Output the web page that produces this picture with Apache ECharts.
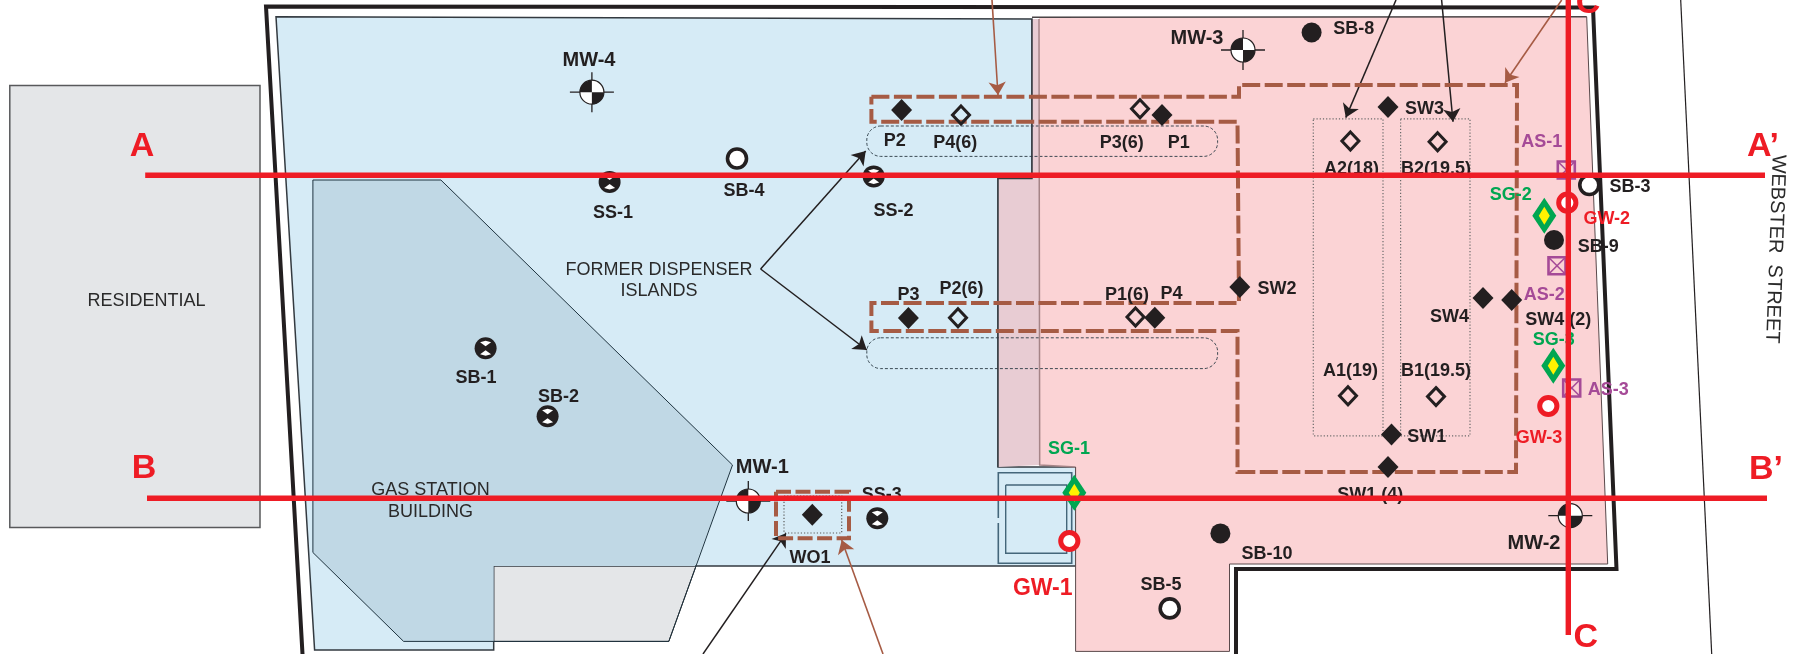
<!DOCTYPE html>
<html><head><meta charset="utf-8">
<style>html,body{margin:0;padding:0;background:#fff}#c{width:1794px;height:654px}</style>
<script src="https://cdn.jsdelivr.net/npm/echarts@6/dist/echarts.min.js"></script>
</head><body><div id="c"></div>
<script>
// Site plan geometry (x, y in picture units)
const residential=[[9.8,85.5],[260,85.5],[260,527.5],[9.8,527.5]];
const buildingFull=[[312.9,180],[440.9,180],[732.5,465],[668.8,641.4],[403.6,641.4],[312.9,552.5]];
const buildingOnSite=[[312.9,180],[440.9,180],[732.5,465],[695,566],[493.7,566],[493.7,641.4],[403.6,641.4],[312.9,552.5]];
const blueArea=[[276,16.7],[1032,19],[1032,178.5],[998,178.5],[998,467],[1076,467],[1076,566],[493.7,566],[493.7,650],[314.6,650]];
const pinkArea=[[1039,17.3],[1586.7,16.7],[1607.7,564],[1229.5,564],[1229.5,651.4],[1075.6,651.4],[1075.6,467],[1039.7,465]];
const overlapArea=[[1032,19],[1039,19],[1039.7,465],[998,467],[998,178.5],[1032,178.5]];
const pinkEdge=[[1039,19],[1039.7,465],[1075.6,467]];
const pinkTop=[[1032,17.3],[1586.7,16.7]];
const propertyLine=[[302.5,654],[266,6.5],[1593,7.5],[1616.5,569],[1236,569],[1236,654]];
const roadLine=[[1680.7,0],[1711.7,654]];
const vaultOuter=[[998.3,518],[998.3,472.7],[1071.7,472.7],[1071.7,563.3],[998.3,563.3],[998.3,523]];
const vaultInner=[[1005.7,485],[1066.7,485],[1066.7,553.3],[1005.7,553.3],[1005.7,485]];
const excavationMain=[[871.4,96.7],[1239,96.7],[1239,85],[1517,85],[1516,472],[1237.5,472],[1237.5,331],[871.4,331],[871.4,303],[1239,303],[1237.5,121.8],[871.4,121.8],[871.4,96.7]];
const excavationWO=[[776,491.7],[849,491.7],[849,538.3],[776,538.3],[776,491.7]];
const dottedA=[[1313.3,118.8],[1383,118.8],[1383,435.8],[1313.3,435.8],[1313.3,118.8]];
const dottedB=[[1400.6,118.8],[1470,118.8],[1470,435.8],[1400.6,435.8],[1400.6,118.8]];
const dottedWO=[[784,496],[841.7,496],[841.7,533],[784,533],[784,496]];
const islands=[[866.8,126,1217.6,156.4],[866.8,337.8,1217.6,368.6]];
const blackArrows=[[[760.6,269],[865.7,151]],[[760.6,269],[866.8,350]],[[703,654],[786,533.3]],[[1396,0],[1345.8,117.6]],[[1441.6,0],[1453,121.8]]];
const brownArrows=[[[883,654],[841.7,540]],[[992,0],[998,95]],[[1561.7,0],[1505,82.7]]];
const sectionA=[[145.2,175.3],[1765,175.3]];
const sectionB=[[147,498.3],[1767,498.3]];
const sectionC=[[1568.3,0],[1568.3,635]];
// Sample locations
const solidDiamonds=[[901.6,110],[1162,115],[1388,107],[1239.8,287],[1483,298],[1511.7,300],[1154.8,317.8],[1391.5,434.5],[1388,467],[908.4,318],[812.3,514.7]];
const openDiamonds=[[961,115],[1140,108.8],[1350.4,141],[1437.6,141.8],[958,317.8],[1135.5,317],[1348,395.7],[1436,396.6]];
const solidCircles=[[1311.6,32.5],[1554,240],[1220.4,533.4]];
const openCircles=[[737,158.5],[1589.3,185],[1169.7,608.4]];
const crossCircles=[[609.6,182],[873.7,176.4],[485.6,348.2],[547.6,416.2],[877.3,518.3]];
const monitorWells=[[591.9,92.2],[1243,50],[748.3,501],[1570.3,515.7]];
const groundwater=[[1069.3,541],[1567.3,202.7],[1548.3,406]];
const soilGas=[[1074.3,492.7],[1544.3,215.7],[1553.3,365.7]];
const airSparge=[[1566.3,170],[1557,265.7],[1571.7,388]];
// Text
const boldLabels=[[589,58.8,'MW-4'],[1197,36.7,'MW-3'],[762.3,465.7,'MW-1'],[1534,541.7,'MW-2']];
const smallLabels=[[1353.8,27.5,'SB-8'],[894.7,139.6,'P2'],[955.3,141.8,'P4(6)'],[1121.8,141.8,'P3(6)'],[1178.8,141.8,'P1'],[1424.5,107.6,'SW3'],[1351.5,167.2,'A2(18)'],[1436,167.2,'B2(19.5)'],[1630,185.3,'SB-3'],[1598.3,245.3,'SB-9'],[1558.3,319,'SW4 (2)'],[1449.6,315.7,'SW4'],[1276.9,287.3,'SW2'],[908.4,294,'P3'],[961.6,287.7,'P2(6)'],[1126.9,293.2,'P1(6)'],[1171.4,292.7,'P4'],[1350.4,369.5,'A1(19)'],[1436,369.5,'B1(19.5)'],[1426.8,435.8,'SW1'],[1370.3,494,'SW1 (4)'],[881.7,493.3,'SS-3'],[810,556.7,'WO1'],[1267,552.5,'SB-10'],[1161,583.8,'SB-5'],[613,211.4,'SS-1'],[893.5,209.4,'SS-2'],[744,189.7,'SB-4'],[475.9,376.6,'SB-1'],[558.6,395.3,'SB-2']];
const plainLabels=[[659,269,'FORMER DISPENSER'],[659,289.4,'ISLANDS'],[146.4,299.4,'RESIDENTIAL'],[430.5,489,'GAS STATION'],[430.5,510.4,'BUILDING']];
const streetLabel=[[1775,247.5,'WEBSTER  STREET']];
const asLabels=[[1541.7,140.7,'AS-1'],[1544.3,293.7,'AS-2'],[1608.3,388.3,'AS-3']];
const sgLabels=[[1510.7,194,'SG-2'],[1553.7,338.3,'SG-3'],[1069,447.3,'SG-1']];
const gwLabels=[[1606.7,217.7,'GW-2'],[1539,436.7,'GW-3']];
const gwBigLabels=[[1042.7,586.7,'GW-1']];
const sectionLabels=[[142,145,'A'],[144,467,'B'],[1763,145,"A’"],[1766,467.7,"B’"],[1585.7,636,'C'],[1588,2,'C']];

const RED='#ee1c25',DARK='#231f20',BROWN='#a65b44',GREEN='#00a651',PURPLE='#a54a97';
const FONT='"Liberation Sans"';

function fill(pts,color,stroke,w,z){return {type:'custom',coordinateSystem:'cartesian2d',data:pts,z:z||1,silent:true,
  encode:{x:0,y:1},renderItem:(p,api)=>{ if(p.dataIndex!==0)return null;
   return {type:'polygon',shape:{points:pts.map(q=>api.coord(q))},style:{fill:color,stroke:stroke||'none',lineWidth:w||0}};}};}
function path(pts,color,w,dash,z){return {type:'line',data:pts,symbol:'none',silent:true,z:z||2,animation:false,
  lineStyle:{color:color,width:w,type:dash||'solid',cap:'butt',join:'miter'}};}
function marks(pts,draw,z){return {type:'custom',coordinateSystem:'cartesian2d',data:pts,z:z||4,silent:true,encode:{x:0,y:1},
  renderItem:(p,api)=>{const c=api.coord([api.value(0),api.value(1)]);return {type:'group',x:c[0],y:c[1],children:draw()};}};}
function arrows(list,color,w){return {type:'lines',coordinateSystem:'cartesian2d',polyline:false,silent:true,z:3,
  symbol:['none','arrow'],symbolSize:13,lineStyle:{color:color,width:w,opacity:1,curveness:0},
  data:list.map(a=>({coords:a}))};}
function text(list,size,color,weight,rotate,z){return {type:'custom',coordinateSystem:'cartesian2d',data:list,z:z||5,silent:true,
  encode:{x:0,y:1},renderItem:(p,api)=>{const c=api.coord([list[p.dataIndex][0],list[p.dataIndex][1]]);
   return {type:'text',x:c[0],y:c[1]+1.5,rotation:(rotate||0)*Math.PI/180,
     style:{text:list[p.dataIndex][2],fill:color,font:weight+' '+size+'px '+FONT,textAlign:'center',textVerticalAlign:'middle'}};}};}
const poly=(pts,style)=>({type:'polygon',shape:{points:pts},style});
const ln=(a,b,c,d,stroke,w)=>({type:'line',shape:{x1:a,y1:b,x2:c,y2:d},style:{stroke,lineWidth:w}});
const circ=(r,style)=>({type:'circle',shape:{cx:0,cy:0,r},style});

const series=[
 fill(residential,'#e4e6e8','#58595b',1.5),
 fill(buildingFull,'#e4e6e8','#231f20',1,1),
 fill(blueArea,'#d6ebf6','#333a40',1.5,1),
 fill(overlapArea,'#e8ccd3','none',0,1),
 fill(pinkArea,'#fbd3d5','none',0,1),
 fill(buildingOnSite,'#c0d8e5','none',0,1),
 path(buildingFull.concat([buildingFull[0]]),'#1f3440',1,'solid',2),
 path(blueArea.slice(1,5),'#333a40',1.5,'solid',2),
 path(pinkTop,'#4a4446',1.4,'solid',2),
 path(pinkEdge,'#a58487',1.5,'solid',2),
 path(pinkArea.slice(1,7),'#5a4a4c',1,'solid',2),
 path(propertyLine,DARK,4),
 path(roadLine,DARK,1.2),
 path(vaultOuter,'#44667a',1.6),
 path(vaultInner,'#44667a',1.4),
 {type:'custom',coordinateSystem:'cartesian2d',data:islands,z:2,silent:true,encode:{x:[0,2],y:[1,3]},
  renderItem:(p,api)=>{const a=api.coord([api.value(0),api.value(1)]),b=api.coord([api.value(2),api.value(3)]);
   return {type:'rect',shape:{x:a[0],y:a[1],width:b[0]-a[0],height:b[1]-a[1],r:14},
     style:{fill:'none',stroke:'#2a3a44',lineWidth:0.9,lineDash:[3,2]}};}},
 path(dottedA,'#6a6a6a',1.2,[1.2,2]),
 path(dottedB,'#6a6a6a',1.2,[1.2,2]),
 path(dottedWO,'#5a5a5a',1.2,[1.2,2]),
 path(excavationMain,BROWN,4,[18,4.5],3),
 path(excavationWO,BROWN,4,[15,4.5],3),
 arrows(blackArrows,DARK,1.5),
 arrows(brownArrows,BROWN,1.6),
 marks(solidDiamonds,()=>[poly([[0,-11],[10.5,0],[0,11],[-10.5,0]],{fill:DARK})]),
 marks(openDiamonds,()=>[poly([[0,-9],[8.5,0],[0,9],[-8.5,0]],{fill:'none',stroke:DARK,lineWidth:3})]),
 marks(solidCircles,()=>[circ(10,{fill:DARK})]),
 marks(openCircles,()=>[circ(9.5,{fill:'#fff',stroke:DARK,lineWidth:3.6})]),
 marks(crossCircles,()=>[circ(11,{fill:DARK}),
   poly([[-5.5,-6],[0,-7.5],[5.5,-6],[0,-2]],{fill:'#fff'}),poly([[-5.5,6],[0,7.5],[5.5,6],[0,2]],{fill:'#fff'})]),
 marks(monitorWells,()=>[ln(-22,0,22,0,DARK,1.3),ln(0,-20,0,20,DARK,1.3),circ(12,{fill:'#fff',stroke:DARK,lineWidth:1.2}),
   {type:'sector',shape:{cx:0,cy:0,r0:0,r:12,startAngle:Math.PI,endAngle:1.5*Math.PI},style:{fill:DARK}},
   {type:'sector',shape:{cx:0,cy:0,r0:0,r:12,startAngle:0,endAngle:0.5*Math.PI},style:{fill:DARK}}]),
 marks(groundwater,()=>[circ(8.6,{fill:'#fff',stroke:RED,lineWidth:5})]),
 marks(soilGas,()=>[poly([[0,-18],[12,0],[0,18],[-12,0]],{fill:GREEN}),poly([[0,-9],[5.5,0],[0,9],[-5.5,0]],{fill:'#fff200'})]),
 marks(airSparge,()=>[{type:'rect',shape:{x:-8.5,y:-8.5,width:17,height:17},style:{fill:'none',stroke:PURPLE,lineWidth:2.6}},
   ln(-8,-8,8,8,PURPLE,1.6),ln(-8,8,8,-8,PURPLE,1.6)]),
 text(boldLabels,20,DARK,'bold'),
 text(smallLabels,18,DARK,'bold'),
 text(plainLabels,18,'#2a2a2a','normal'),
 text(streetLabel,20,'#2a2a2a','normal',-92),
 text(asLabels,18,PURPLE,'bold'),
 text(sgLabels,18,GREEN,'bold'),
 text(gwLabels,18,RED,'bold'),
 text(gwBigLabels,23,RED,'bold'),
 path(sectionA,RED,5.4,'solid',7),
 path(sectionB,RED,5.4,'solid',7),
 path(sectionC,RED,5.4,'solid',7),
 text(sectionLabels,34,RED,'bold',0,8)
];
const chart=echarts.init(document.getElementById('c'),null,{renderer:'canvas'});
chart.setOption({animation:false,backgroundColor:'#fff',
 grid:{left:0,right:0,top:0,bottom:0},
 xAxis:{type:'value',min:0,max:1794,show:false},
 yAxis:{type:'value',min:0,max:654,inverse:true,show:false},
 series});
</script></body></html>
